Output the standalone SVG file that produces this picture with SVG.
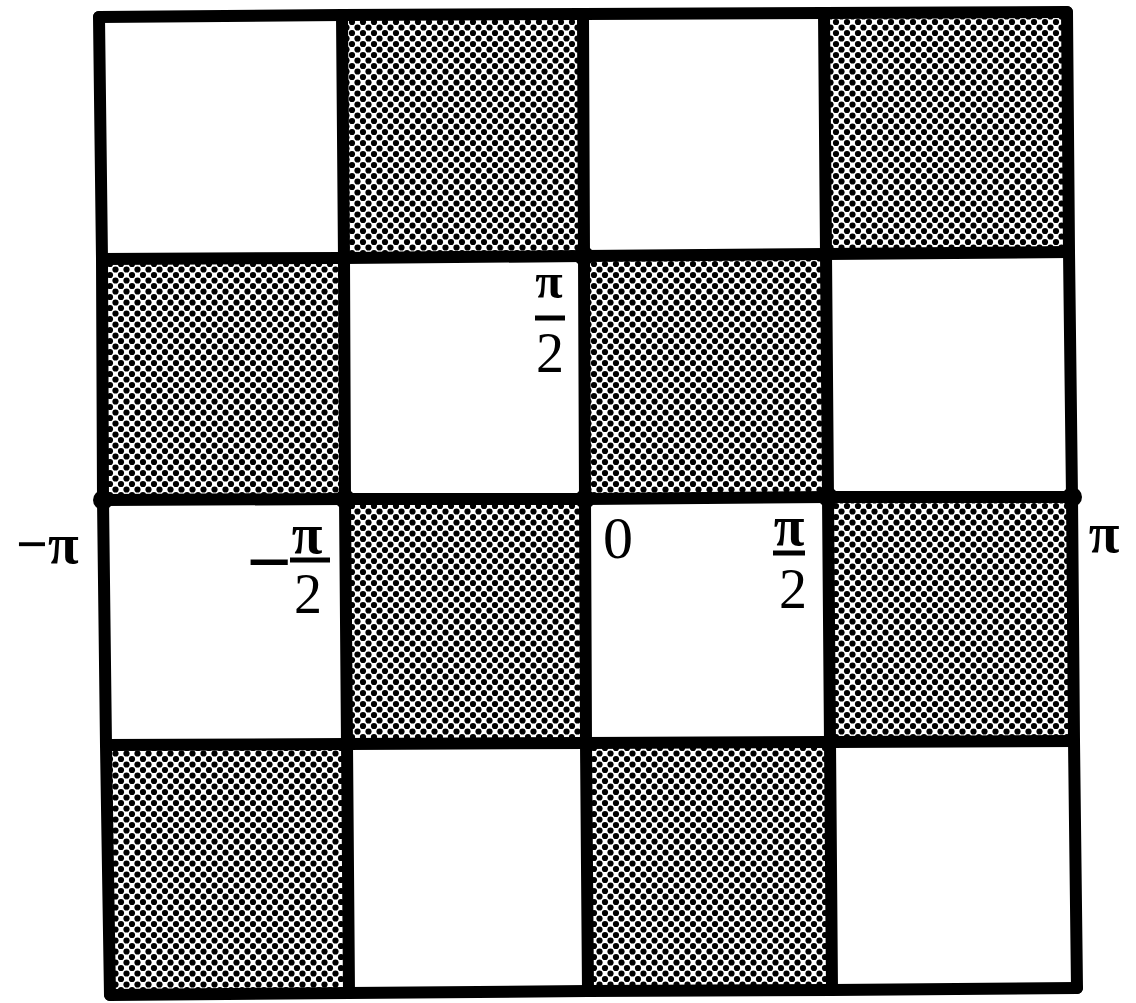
<svg xmlns="http://www.w3.org/2000/svg" width="1136" height="1003" viewBox="0 0 1136 1003">
<style>
.grid{fill:none;stroke:#000;stroke-width:12;stroke-linecap:round;stroke-linejoin:round}
.shade{fill:url(#dots);stroke:none}
.lbl{font-family:"Liberation Serif","DejaVu Serif",serif;font-size:56px;fill:#000}
.pi{font-weight:bold}
.bar{stroke:#000;stroke-width:5}
.vtx{fill:#000}
</style>
<defs>
<pattern id="dots" width="11" height="11" patternUnits="userSpaceOnUse">
<rect width="11" height="11" fill="#fff"/>
<circle cx="0" cy="0" r="3.1" fill="#000"/>
<circle cx="11" cy="0" r="3.1" fill="#000"/>
<circle cx="0" cy="11" r="3.1" fill="#000"/>
<circle cx="11" cy="11" r="3.1" fill="#000"/>
<circle cx="5.5" cy="5.5" r="3.1" fill="#000"/>
</pattern>
</defs>
<rect width="1136" height="1003" fill="#fff"/>
<g id="cells">
<polygon class="shade" points="342,15 583,14 584,256 344,258"/>
<polygon class="shade" points="824,13 1067,12 1069,252 826,254"/>
<polygon class="shade" points="102,259 344,258 345,499 103,500"/>
<polygon class="shade" points="584,256 826,254 828,497 585,499"/>
<polygon class="shade" points="345,499 585,499 586,743 347,744"/>
<polygon class="shade" points="828,497 1072,497 1074,741 830,742"/>
<polygon class="shade" points="106,745 347,744 349,993 110,995"/>
<polygon class="shade" points="586,743 830,742 832,990 588,991"/>
</g>
<g id="connectors">
<polyline class="grid" points="99,17 342,15 583,14 824,13 1067,12"/>
<polyline class="grid" points="102,259 344,258 584,256 826,254 1069,252"/>
<polyline class="grid" points="103,500 345,499 585,499 828,497 1072,497"/>
<polyline class="grid" points="106,745 347,744 586,743 830,742 1074,741"/>
<polyline class="grid" points="110,995 349,993 588,991 832,990 1077,988"/>
<polyline class="grid" points="99,17 102,259 103,500 106,745 110,995"/>
<polyline class="grid" points="342,15 344,258 345,499 347,744 349,993"/>
<polyline class="grid" points="583,14 584,256 585,499 586,743 588,991"/>
<polyline class="grid" points="824,13 826,254 828,497 830,742 832,990"/>
<polyline class="grid" points="1067,12 1069,252 1072,497 1074,741 1077,988"/>
</g>
<g id="vertices">
<circle class="vtx" cx="584" cy="256" r="10"/>
<circle class="vtx" cx="103" cy="500" r="10"/>
<circle class="vtx" cx="345" cy="499" r="10"/>
<circle class="vtx" cx="585" cy="499" r="10"/>
<circle class="vtx" cx="828" cy="497" r="10"/>
<circle class="vtx" cx="1072" cy="497" r="10"/>
</g>
<g id="label-pi-half-top">
<text class="lbl pi" x="549" y="298" text-anchor="middle" style="font-size:50px">π</text>
<line class="bar" x1="535" y1="318" x2="565" y2="318"/>
<text class="lbl" x="550" y="372" text-anchor="middle">2</text>
</g>
<g id="label-minus-pi">
<text class="lbl pi" x="16" y="563">−π</text>
</g>
<g id="label-minus-pi-half">
<text class="lbl pi" x="292" y="589" text-anchor="end" style="font-size:80px">−</text>
<text class="lbl pi" x="307" y="553" text-anchor="middle">π</text>
<line class="bar" x1="290" y1="560" x2="330" y2="560"/>
<text class="lbl" x="308" y="613" text-anchor="middle">2</text>
</g>
<g id="label-zero">
<text class="lbl" x="618" y="558" text-anchor="middle" style="font-size:60px">0</text>
</g>
<g id="label-pi-half">
<text class="lbl pi" x="789" y="545" text-anchor="middle">π</text>
<line class="bar" x1="773" y1="553" x2="805" y2="553"/>
<text class="lbl" x="793" y="608" text-anchor="middle">2</text>
</g>
<g id="label-pi">
<text class="lbl pi" x="1104" y="552" text-anchor="middle">π</text>
</g>
</svg>
